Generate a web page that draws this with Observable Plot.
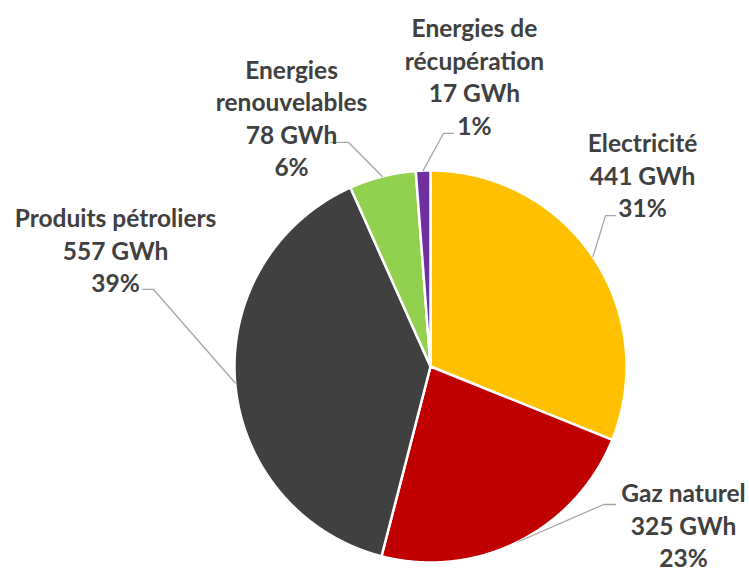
<!DOCTYPE html>
<html><head><meta charset="utf-8">
<script src="https://cdn.jsdelivr.net/npm/d3@7"></script>
<script src="https://cdn.jsdelivr.net/npm/@observablehq/plot@0.6"></script>
<style>body{margin:0;background:#fff;overflow:hidden}</style>
</head><body><div id="chart"></div>
<script>
// ---- data ----
const categories = ["Electricité", "Gaz naturel", "Produits pétroliers", "Energies renouvelables", "Energies de récupération"];
const labelNames = ["Electricité", "Gaz naturel", "Produits pétroliers", "Energies\nrenouvelables", "Energies de\nrécupération"];
const values = [441, 325, 557, 78, 17];
const unit = "GWh";
const colors = ["#FFC000", "#C00000", "#404040", "#92D050", "#7030A0"];

// ---- layout (in units of the pie radius, centre = 0,0, y up) ----
const W = 749, H = 570, CX = 430, CY = 366, R = 196;
const labelAt = [[1.082, 0.980], [1.291, -0.805], [-1.607, 0.599], [-0.709, 1.272], [0.224, 1.484]];
const elbowAt = [[0.893, 0.770, 0.944], [0.883, -0.704, 0.944], [-1.413, 0.393, -1.469], [-0.418, 1.143, -0.510], [0.066, 1.189, 0.117]];

const total = d3.sum(values);
const pie = d3.pie().sort(null).value(d => d)(values);

// slice polygons
const slicePts = [];
pie.forEach((p, i) => {
  const cat = categories[i];
  slicePts.push({cat, x: 0, y: 0});
  const n = Math.max(4, Math.ceil((p.endAngle - p.startAngle) / 0.005));
  for (let k = 0; k <= n; k++) {
    const a = p.startAngle + (p.endAngle - p.startAngle) * k / n;
    slicePts.push({cat, x: Math.sin(a), y: Math.cos(a)});
  }
  slicePts.push({cat, x: 0, y: 0});
});

// leader lines
const leaderPts = [];
pie.forEach((p, i) => {
  const cat = categories[i];
  const a = (p.startAngle + p.endAngle) / 2;
  const e = elbowAt[i];
  leaderPts.push({cat, x: Math.sin(a), y: Math.cos(a)});
  leaderPts.push({cat, x: e[0], y: e[1]});
  leaderPts.push({cat, x: e[2], y: e[1]});
});

const labels = categories.map((c, i) => ({
  cat: c,
  x: labelAt[i][0], y: labelAt[i][1],
  text: `${labelNames[i]}\n${values[i]} ${unit}\n${Math.round(values[i] / total * 100)}%`
}));

const chart = Plot.plot({
  width: W, height: H,
  margin: 0,
  x: {domain: [-CX / R, (W - CX) / R], axis: null},
  y: {domain: [-(H - CY) / R, CY / R], axis: null},
  color: {domain: categories, range: colors},
  style: {background: "#fff"},
  marks: [
    Plot.line(slicePts, {x: "x", y: "y", z: "cat", fill: "cat", stroke: "#fff", strokeWidth: 2.5, strokeLinejoin: "round", curve: "linear"}),
    Plot.line(leaderPts, {x: "x", y: "y", z: "cat", stroke: "#A6A6A6", strokeWidth: 1.3}),
    Plot.text(labels, {x: "x", y: "y", text: "text", fontSize: 24.5, fontWeight: "bold", fontFamily: "Lato", fill: "#404040", lineHeight: 1.327, lineAnchor: "middle", textAnchor: "middle"})
  ]
});
document.getElementById("chart").appendChild(chart);
</script>
</body></html>
